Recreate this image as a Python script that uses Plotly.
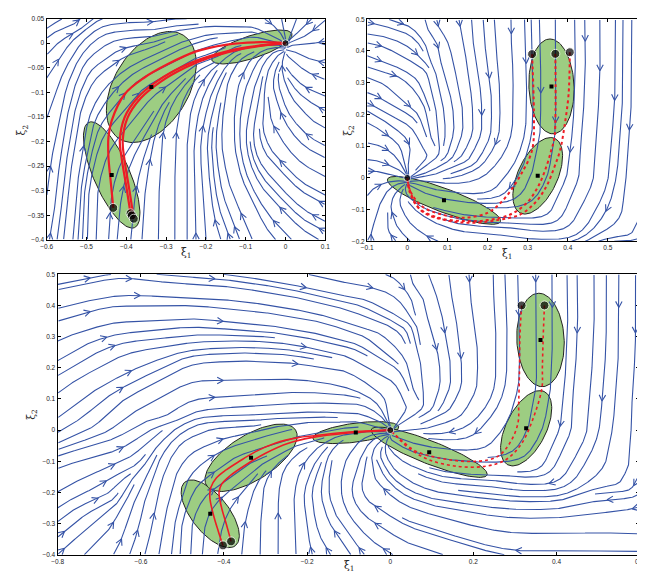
import numpy as np
import plotly.graph_objects as go

# ---------------- flow-direction samples (data units) ----------
# bottom panel, upper-left
fa_x = [-0.732, -0.575, -0.308, -0.183, -0.732, -0.614, -0.418, -0.245, -0.764, -0.693,
        -0.575, -0.528, -0.402, -0.324, -0.143, -0.120, -0.418, -0.681, -0.536, -0.120,
        -0.261, -0.795]
fa_y = [0.458, 0.479, 0.464, 0.432, 0.353, 0.379, 0.363, 0.347, 0.226, 0.184,
        0.305, 0.178, 0.231, 0.228, 0.205, 0.268, 0.141, 0.046, 0.067, 0.078,
        0.052, 0.089]
fa_u = [1] * 22
fa_v = [0.27, -0.16, -0.2, -0.3, 0.40, 0, -0.13, -0.2, 0.81, 0.74,
        0.13, 0.74, 0.07, -0.05, -0.13, -0.27, -0.03, 1.35, 1.08, 0,
        0, 1.08]
# bottom panel, upper-right
fb_x = [-0.049, -0.049, 0.014, 0.092, 0.147, 0.159, 0.163, 0.186, 0.108, -0.026,
        0.053, 0.210, 0.280, 0.355, 0.350, 0.461, 0.567, 0.567, 0.590, 0.336,
        0.080, 0.124, 0.077, 0.250, 0.500]
fb_y = [0.464, 0.331, 0.353, 0.300, 0.337, 0.200, 0.083, 0.490, 0.089, 0.194,
        0.089, 0.200, 0.300, 0.469, 0.200, 0.300, 0.469, 0.330, 0.067, 0.057,
        0.450, 0.450, 0.046, 0.450, 0.100]
fb_u = [1, 1, 1, 0.26, 0.074, 0.04, -0.37, 0.04, -0.22, 1,
        1, 0, 0, 0, 0, -0.03, 0, 0, 0, -0.1,
        0.7, 0.1, -1, 0, -0.05]
fb_v = [-0.34, -0.27, -0.67, -1, -1, -1, -1, -1, -1, -0.54,
        -0.94, -1, -1, -1, -1, -1, -1, -1, -1, -1,
        -1, -1, -0.6, -1, -1]
# bottom panel, lower-left
fc_x = [-0.654, -0.712, -0.736, -0.528, -0.520, -0.489, -0.614, -0.693, -0.418, -0.324,
        -0.402, -0.277, -0.285, -0.198, -0.620, -0.732]
fc_y = [-0.122, -0.227, -0.322, -0.069, -0.190, -0.364, -0.312, -0.048, 0.037, -0.058,
        -0.153, -0.354, -0.227, -0.259, -0.200, -0.085]
fc_u = [1, 1, 1, 0.45, 0.15, 0, 0.22, 1, 1, 1, 1, 0, 0, -0.1, 0.35, 1]
fc_v = [0.54, 0.54, 1.08, 1, 1, 1, 1, 0.4, 0.07, 0.4, 1.08, 1, 1, 1, 1, 0.3]
# bottom panel, lower-right
fd_x = [-0.092, 0.131, 0.139, 0.116, 0.336, 0.398, 0.548, 0.544, 0.390, 0.567,
        0.289, 0.053, 0.131, 0.249, 0.200, 0.300, 0.050, 0.445, 0.575]
fd_y = [-0.364, -0.364, -0.227, -0.069, -0.196, -0.349, -0.338, -0.200, -0.074, -0.074,
        -0.174, -0.153, 0.037, -0.005, -0.120, 0.000, -0.030, -0.100, -0.157]
fd_u = [-0.52, -1, -1, -1, -1, -1, -1, -1, -0.3, 0, -1, -1, -1, -0.6, -1, -0.3, -1, -0.4, -0.3]
fd_v = [1, 0.4, 0.13, 0.1, 0, 0, 0.05, 0, -1, -1, 0.27, 0.9, -0.4, -1, 0.1, -1, 0.6, -1, -1]
# top-left panel
fe_x = [-0.367, -0.159, -0.551, -0.559, -0.551, -0.461, -0.535, -0.412, -0.306, -0.237,
        -0.078, -0.037, -0.584, -0.200, -0.200, -0.100, 0.050, -0.550,
        -0.238, -0.243, -0.140, -0.132, -0.136, -0.107, -0.136, -0.025, -0.025, -0.021,
        -0.025, 0.000, 0.090, 0.090, 0.090, 0.090, 0.090, 0.078, 0.025, -0.099, -0.181]
fe_y = [0.027, 0.037, -0.114, -0.191, -0.311, -0.037, -0.017, -0.164, -0.030, -0.338,
        -0.070, -0.037, -0.271, -0.150, -0.030, -0.010, 0.040, 0.030,
        -0.382, -0.177, -0.110, -0.177, -0.248, -0.311, -0.382, -0.110, -0.177, -0.248,
        -0.311, -0.382, -0.097, -0.164, -0.234, -0.301, -0.368, -0.030, -0.050, -0.057, -0.084]
fe_u = [1, 1, 0.24, 0.15, 0.1, 1, 0.73, 1, 1, 0,
        0.6, 0.8, 0.1, 0.3, 1, 1, -1, 1,
        0, 0.1, 0.05, -0.05, -0.3, -0.6, -0.5, -0.5, -0.8, -1,
        -1, -1, -1, -1, -1, -1, -1, -1, -1, 0.5, 0.6]
fe_v = [-0.04, -0.08, 1, 1, 1, 0.57, 1, 0.82, 0.41, 1,
        1, 1, 1, 1, 0.2, 0.1, -0.8, 0.2,
        1, 1, 1, 1, 1, 1, 1, 1, 1, 0.8,
        0.8, 0.8, 0.3, 0.4, 0.4, 0.4, 0.4, 0.1, 0.8, 1, 1]
# top-right panel and the ring round the origin
fg_x = [-0.033, -0.033, -0.033, -0.045, 0.061, 0.069, 0.069, 0.069, 0.167, 0.445,
        0.253, -0.049, -0.049, -0.066, -0.086, -0.090, -0.086, 0.163, 0.090, 0.020,
        0.030, -0.030, 0.000, -0.025]
fg_y = [0.486, 0.398, 0.284, 0.160, 0.497, 0.395, 0.300, 0.190, 0.480, 0.056,
        -0.141, -0.074, 0.025, -0.141, 0.212, 0.450, -0.151, -0.162, -0.070, 0.060,
        0.005, 0.000, 0.030, 0.020]
fg_u = [1, 1, 1, 1, 0.08, 0.05, 0.05, 0.05, 0, 0,
        -1, 0.16, 1, 0.23, 1, 1, 0.3, -1, -1, -0.3,
        -1, 1, 0, 1]
fg_v = [-0.38, -0.64, -1.27, -1.0, -1, -1, -1, -1, -1, -1,
        0, 1, -0.51, 1, -0.8, -0.1, 1, 0.1, 0.4, -1,
        -0.1, 0.1, -1, -0.6]

# ---------------- ellipses (centre, two conjugate half-axis vectors) ----------------
p1_ell_cx = [-0.4367, -0.3371, -0.0845]
p1_ell_cy = [-0.2680, -0.0891, -0.0077]
p1_ell_ax = [0.0574, 0.0801, 0.1006]
p1_ell_ay = [-0.1071, 0.1055, 0.0267]
p1_ell_bx = [0.0417, 0.0796, 0.00875]
p1_ell_by = [0.0147, -0.0402, -0.0219]

p2_ell_cx = [0.3594, 0.3251, 0.0914]
p2_ell_cy = [0.2884, 0.0068, -0.0706]
p2_ell_ax = [-0.0037, 0.0428, 0.1407]
p2_ell_ay = [0.1494, 0.1176, -0.0669]
p2_ell_bx = [0.0563, 0.0448, -0.0103]
p2_ell_by = [0.0, -0.0264, -0.0348]

p3_ell_cx = [-0.4331, -0.3349, -0.0829, 0.0937, 0.3270, 0.3615]
p3_ell_cy = [-0.2684, -0.0887, -0.0079, -0.0710, 0.0060, 0.2893]
p3_ell_ax = [0.0608, 0.1072, 0.1032, 0.1394, 0.0430, -0.0040]
p3_ell_ay = [-0.1020, 0.0887, 0.0184, -0.0729, 0.1180, 0.1499]
p3_ell_bx = [0.0346, 0.0285, 0.0030, -0.0099, 0.0440, 0.0570]
p3_ell_by = [0.0374, -0.0618, -0.0301, -0.0345, -0.0260, 0.0]

# ---------------- mean trajectories (red) ----------------
p1_traj_x = [
    [-0.4327, -0.4388, -0.4449, -0.4449, -0.4367, -0.4041, -0.3551, -0.2980, -0.2245, -0.1510, -0.0612, 0.0],
    [-0.3894, -0.4000, -0.4122, -0.4163, -0.4041, -0.3714, -0.3224, -0.2571, -0.1918, -0.1102, 0.0],
    [-0.3812, -0.3920, -0.4050, -0.4090, -0.3970, -0.3640, -0.3150, -0.2500, -0.1860, -0.1060, 0.0],
]
p1_traj_y = [
    [-0.3350, -0.2846, -0.2311, -0.1909, -0.1574, -0.1038, -0.0703, -0.0435, -0.0167, -0.0033, 0.0020, 0.0],
    [-0.3460, -0.2914, -0.2311, -0.1976, -0.1507, -0.1105, -0.0770, -0.0469, -0.0268, -0.0100, 0.0],
    [-0.3570, -0.3000, -0.2350, -0.1980, -0.1520, -0.1120, -0.0790, -0.0490, -0.0280, -0.0110, 0.0],
]
p2_traj_x = [
    [0.311, 0.3155, 0.3139, 0.3057, 0.2894, 0.2649, 0.2322, 0.1996, 0.1424, 0.0853, 0.0363, 0.0078, 0.0],
    [0.369, 0.3694, 0.3669, 0.3588, 0.3465, 0.3261, 0.2976, 0.2567, 0.1996, 0.1424, 0.0771, 0.0282, 0.0053, 0.0],
    [0.405, 0.4020, 0.3914, 0.3808, 0.3669, 0.3465, 0.3180, 0.2812, 0.2241, 0.1588, 0.0935, 0.0363, 0.0102, 0.0],
]
p2_traj_y = [
    [0.390, 0.2116, 0.1080, 0.0664, 0.0250, -0.0270, -0.0788, -0.1100, -0.1255, -0.1151, -0.0892, -0.0425, 0.0],
    [0.391, 0.2116, 0.1286, 0.0871, 0.0353, -0.0270, -0.0788, -0.1151, -0.1328, -0.1359, -0.1255, -0.0944, -0.0425, 0.0],
    [0.396, 0.2635, 0.1598, 0.0871, 0.0353, -0.0270, -0.0788, -0.1151, -0.1328, -0.1411, -0.1328, -0.1048, -0.0529, 0.0],
]
p3_traj_x = [
    [-0.4025, -0.4143, -0.4260, -0.4340, -0.4320, -0.4180, -0.3940, -0.3630, -0.3240, -0.2770, -0.2220, -0.1830, -0.1000, 0.0],
    [-0.3830, -0.3945, -0.4060, -0.4120, -0.4060, -0.3870, -0.3470, -0.3000, -0.2450, -0.1900, -0.1000, 0.0],
    [0.316, 0.312, 0.311, 0.309, 0.307, 0.287, 0.258, 0.210, 0.142, 0.064, 0.026, 0.0],
    [0.371, 0.368, 0.366, 0.365, 0.345, 0.316, 0.278, 0.229, 0.161, 0.093, 0.045, 0.016, 0.0],
]
p3_traj_y = [
    [-0.3698, -0.3220, -0.2690, -0.2170, -0.1850, -0.1530, -0.1270, -0.1000, -0.0690, -0.0420, -0.0240, -0.0180, -0.0060, 0.0],
    [-0.3570, -0.3010, -0.2480, -0.2000, -0.1740, -0.1480, -0.1110, -0.0740, -0.0420, -0.0240, -0.0090, 0.0],
    [0.400, 0.300, 0.194, 0.089, 0.021, -0.043, -0.085, -0.100, -0.095, -0.069, -0.032, 0.0],
    [0.400, 0.300, 0.200, 0.136, 0.042, -0.043, -0.095, -0.116, -0.116, -0.095, -0.058, -0.022, 0.0],
]
p3_traj_dash = ["solid", "solid", "dot", "dot"]

# ---------------- axes / tick labels ----------------
p1_xticks = [-0.6, -0.5, -0.4, -0.3, -0.2, -0.1, 0, 0.1]
p1_yticks = [0.05, 0, -0.05, -0.1, -0.15, -0.2, -0.25, -0.3, -0.35, -0.4]
p2_xticks = [-0.1, 0, 0.1, 0.2, 0.3, 0.4, 0.5, 0.6]
p2_yticks = [-0.2, -0.1, 0, 0.1, 0.2, 0.3, 0.4, 0.5]
p3_xticks = [-0.8, -0.6, -0.4, -0.2, 0, 0.2, 0.4, 0.6]
p3_yticks = [-0.4, -0.3, -0.2, -0.1, 0, 0.1, 0.2, 0.3, 0.4, 0.5]

BLUE = "#3553a6"
GREEN = "#9dcd82"
RED = "#ee1c25"

FX = np.array(fa_x + fb_x + fc_x + fd_x + fe_x + fg_x, float)
FY = np.array(fa_y + fb_y + fc_y + fd_y + fe_y + fg_y, float)
FU = np.array(fa_u + fb_u + fc_u + fd_u + fe_u + fg_u, float)
FV = np.array(fa_v + fb_v + fc_v + fd_v + fe_v + fg_v, float)
_n = np.hypot(FU, FV)
FU = FU / _n
FV = FV / _n


def field(x, y):
    d2 = (x - FX) ** 2 + (y - FY) ** 2 + 4e-4
    w = d2 ** -1.5
    s = w.sum()
    return float(w @ FU) / s, float(w @ FV) / s


def streamslice(xr, yr, W, H, dsep, dtest, step=1.0, alen=7.0):
    sx = W / (xr[1] - xr[0])
    sy = H / (yr[1] - yr[0])
    ox, oy = -xr[0] * sx, -yr[0] * sy
    hs = dsep
    grid = {}

    def sdir(px, py):
        u, v = field(xr[0] + px / sx, yr[0] + py / sy)
        a, b = u * sx, v * sy
        m = np.hypot(a, b) + 1e-12
        return a / m, b / m

    def blocked(x, y, dt):
        i, j = int(x // hs), int(y // hs)
        dt2 = dt * dt
        for a in (i - 1, i, i + 1):
            for b in (j - 1, j, j + 1):
                L = grid.get((a, b))
                if L:
                    for (qx, qy) in L:
                        if (qx - x) ** 2 + (qy - y) ** 2 < dt2:
                            return True
        return False

    seeds = []
    g = dsep * 0.7
    nsx, nsy = int(W / g), int(H / g)
    for i in range(nsx):
        for j in range(nsy):
            seeds.append(((i + 0.5) * W / nsx, (j + 0.5) * H / nsy))
    N = len(seeds)
    order = sorted(range(N), key=lambda k: (k * 7919) % N)
    LX, LY, AX, AY = [], [], [], []
    for k in order:
        px, py = seeds[k]
        if np.hypot(px - ox, py - oy) < 10 or blocked(px, py, dsep * 0.9):
            continue
        parts = []
        for sgn in (1, -1):
            pts = []
            x, y = px, py
            pd = None
            for _ in range(3000):
                d1 = sdir(x, y)
                mx = x + 0.5 * step * sgn * d1[0]
                my = y + 0.5 * step * sgn * d1[1]
                d2 = sdir(mx, my)
                xn = x + step * sgn * d2[0]
                yn = y + step * sgn * d2[1]
                if not (0 <= xn <= W and 0 <= yn <= H):
                    break
                if pd is not None and d2[0] * pd[0] + d2[1] * pd[1] < 0.5:
                    break
                pd = d2
                r = np.hypot(xn - ox, yn - oy)
                dt = dtest * min(1.0, r / (2.5 * dsep))
                if blocked(xn, yn, dt):
                    break
                x, y = xn, yn
                pts.append((x, y))
                if r < 2.0:
                    break
            parts.append(pts)
        line = parts[1][::-1] + [(px, py)] + parts[0]
        if len(line) < 14:
            continue
        for (a, b) in line:
            grid.setdefault((int(a // hs), int(b // hs)), []).append((a, b))
            LX.append(xr[0] + a / sx)
            LY.append(yr[0] + b / sy)
        LX.append(None)
        LY.append(None)
        if len(line) > 30:
            dx, dy = sdir(px, py)
            tipx, tipy = px + dx * alen * 0.5, py + dy * alen * 0.5
            ang = np.radians(28)
            arms = []
            for s in (1, -1):
                ca, sa = np.cos(s * ang), np.sin(s * ang)
                rx = dx * ca - dy * sa
                ry = dx * sa + dy * ca
                arms.append((tipx - rx * alen, tipy - ry * alen))
            for (a, b) in (arms[0], (tipx, tipy), arms[1]):
                AX.append(xr[0] + a / sx)
                AY.append(yr[0] + b / sy)
            AX.append(None)
            AY.append(None)
    return LX + AX, LY + AY


def ellipse(cx, cy, ax, ay, bx, by, n=120):
    t = np.linspace(0, 2 * np.pi, n)
    return cx + ax * np.cos(t) + bx * np.sin(t), cy + ay * np.cos(t) + by * np.sin(t)


def fmt(v):
    s = ("%.2f" % v).rstrip("0").rstrip(".")
    if s in ("-0", ""):
        s = "0"
    return s.replace("-", "\u2212")


fig = go.Figure()

panels = [
    dict(xa="x", ya="y", xr=[-0.6, 0.1], yr=[-0.4, 0.05], W=283.4, H=224.0,
         ecx=p1_ell_cx, ecy=p1_ell_cy, eax=p1_ell_ax, eay=p1_ell_ay, ebx=p1_ell_bx, eby=p1_ell_by,
         tx=p1_traj_x, ty=p1_traj_y, dash=["solid"] * 3, tw=2.2,
         centers=([-0.4367, -0.3371], [-0.268, -0.0891]),
         starts=([-0.4327, -0.3894, -0.3861, -0.3812], [-0.335, -0.346, -0.3503, -0.357]),
         dsep=9.5, dtest=3.8),
    dict(xa="x2", ya="y2", xr=[-0.1, 0.6], yr=[-0.2, 0.5], W=285.7, H=225.0,
         ecx=p2_ell_cx, ecy=p2_ell_cy, eax=p2_ell_ax, eay=p2_ell_ay, ebx=p2_ell_bx, eby=p2_ell_by,
         tx=p2_traj_x, ty=p2_traj_y, dash=["dot"] * 3, tw=2.0,
         centers=([0.3594, 0.3251, 0.0914], [0.2884, 0.0068, -0.0706]),
         starts=([0.311, 0.369, 0.405], [0.39, 0.391, 0.396]),
         dsep=10.5, dtest=4.2),
    dict(xa="x3", ya="y3", xr=[-0.8, 0.6], yr=[-0.4, 0.5], W=592.0, H=284.0,
         ecx=p3_ell_cx, ecy=p3_ell_cy, eax=p3_ell_ax, eay=p3_ell_ay, ebx=p3_ell_bx, eby=p3_ell_by,
         tx=p3_traj_x, ty=p3_traj_y, dash=p3_traj_dash, tw=1.6,
         centers=([-0.4331, -0.3349, -0.0829, 0.0937, 0.327, 0.3615],
                  [-0.2684, -0.0887, -0.0079, -0.071, 0.006, 0.2893]),
         starts=([-0.4025, -0.383, 0.316, 0.371], [-0.3698, -0.357, 0.40, 0.40]),
         dsep=12.0, dtest=4.8),
]

for P in panels:
    for i in range(len(P["ecx"])):
        ex, ey = ellipse(P["ecx"][i], P["ecy"][i], P["eax"][i], P["eay"][i], P["ebx"][i], P["eby"][i])
        fig.add_trace(go.Scatter(x=ex, y=ey, mode="lines", fill="toself", fillcolor=GREEN,
                                 line=dict(color="#222222", width=1), xaxis=P["xa"], yaxis=P["ya"],
                                 hoverinfo="skip", showlegend=False))
    SX, SY = streamslice(P["xr"], P["yr"], P["W"], P["H"], dsep=P["dsep"], dtest=P["dtest"])
    fig.add_trace(go.Scatter(x=SX, y=SY, mode="lines", line=dict(color=BLUE, width=1.1),
                             xaxis=P["xa"], yaxis=P["ya"], hoverinfo="skip", showlegend=False,
                             connectgaps=False))
    for i in range(len(P["tx"])):
        fig.add_trace(go.Scatter(x=P["tx"][i], y=P["ty"][i], mode="lines",
                                 line=dict(color=RED, width=P["tw"], dash=P["dash"][i], shape="spline"),
                                 xaxis=P["xa"], yaxis=P["ya"], hoverinfo="skip", showlegend=False))
    fig.add_trace(go.Scatter(x=P["centers"][0], y=P["centers"][1], mode="markers",
                             marker=dict(color="black", size=4, symbol="square"),
                             xaxis=P["xa"], yaxis=P["ya"], hoverinfo="skip", showlegend=False))
    fig.add_trace(go.Scatter(x=P["starts"][0] + [0.0], y=P["starts"][1] + [0.0], mode="markers",
                             marker=dict(color="black", size=[9] * len(P["starts"][0]) + [7]),
                             xaxis=P["xa"], yaxis=P["ya"], hoverinfo="skip", showlegend=False))


def axis(domain, rng, ticks, anchor):
    return dict(domain=domain, range=rng, anchor=anchor, tickvals=ticks,
                ticktext=[fmt(t) for t in ticks], ticks="inside", ticklen=3, tickwidth=1,
                tickcolor="black", showline=True, linecolor="black", linewidth=1.4,
                mirror="ticks", showgrid=False, zeroline=False,
                tickfont=dict(size=6.5, color="#222222", family="Liberation Sans"))


title_font = dict(size=10.5, color="#222222", family="DejaVu Serif")
titles = [
    ("\u03be<sub>1</sub>", 175, 244, 0), ("\u03be<sub>2</sub>", 8, 120, -90),
    ("\u03be<sub>1</sub>", 502, 245, 0), ("\u03be<sub>2</sub>", 340, 120, -90),
    ("\u03be<sub>1</sub>", 341, 561, 0), ("\u03be<sub>2</sub>", 18, 408, -90),
]
ann = [dict(text=t, x=px / 645, y=1 - py / 572, xref="paper", yref="paper", showarrow=False,
            textangle=a, font=title_font, xanchor="center", yanchor="middle")
       for (t, px, py, a) in titles]

fig.update_layout(
    width=645, height=572, autosize=False,
    margin=dict(l=0, r=0, t=0, b=0),
    paper_bgcolor="white", plot_bgcolor="white",
    annotations=ann,
    xaxis=axis([0.0516, 0.4910], [-0.6, 0.1], p1_xticks, "y"),
    yaxis=axis([0.5967, 0.9883], [-0.4, 0.05], p1_yticks, "x"),
    xaxis2=axis([0.5571, 1.0], [-0.1, 0.6], p2_xticks, "y2"),
    yaxis2=axis([0.5939, 0.9872], [-0.2, 0.5], p2_yticks, "x2"),
    xaxis3=axis([0.0690, 0.9868], [-0.8, 0.6], p3_xticks, "y3"),
    yaxis3=axis([0.0393, 0.5358], [-0.4, 0.5], p3_yticks, "x3"),
)

fig.write_html("out.html")
